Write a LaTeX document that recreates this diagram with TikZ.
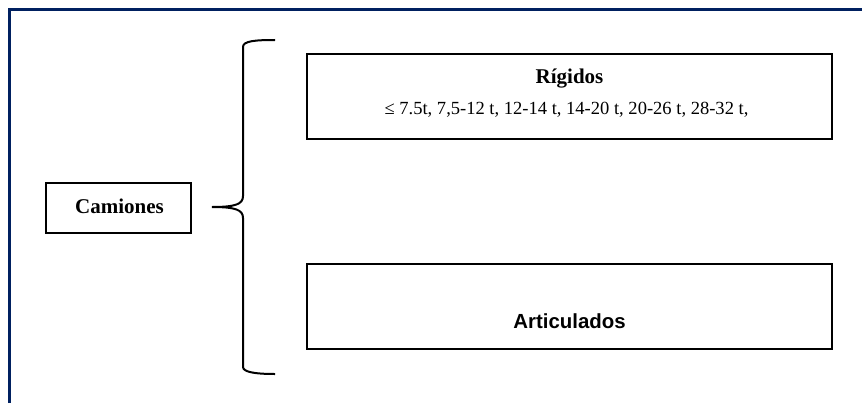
\documentclass[tikz,border=0pt]{standalone}
\usepackage{fontspec}
\setmainfont{Liberation Serif}
\newfontfamily\arialfont{Liberation Sans}
\definecolor{framenavy}{RGB}{0,32,96}
\tikzset{
  box/.style={draw, line width=1.5pt, minimum width=393.75pt, minimum height=63.75pt, inner sep=0pt},
  headtext/.style={font=\fontsize{15.75}{18}\selectfont\bfseries, anchor=base, inner sep=0pt},
  classtext/.style={font=\fontsize{13.9}{16}\selectfont, anchor=base, inner sep=0pt},
}

\begin{document}
\begin{tikzpicture}[x=0.75pt,y=0.75pt,yscale=-1,xscale=1]
	\useasboundingbox (0,0) rectangle (862,403);
	
	%Frame: left and top edge
	\draw [color=framenavy, line width=2.25pt] (9,403) -- (9,10) -- (862,10) ;
	
	%Shape: Rectangle [camiones]
	\node [box, minimum width=108.75pt, minimum height=37.5pt] (camiones) at (118.5,208) {};
	%Shape: Rectangle [rigidos]
	\node [box] (rigidos) at (569.5,96.5) {};
	%Shape: Rectangle [articulados]
	\node [box] (articulados) at (569.5,306.5) {};
	
	%Text
	\node [headtext] (camionestxt) at (119.5,213) {Camiones};
	\node [headtext] (rigidostxt) at (569.5,83) {Rígidos};
	\node [classtext] (pesostxt) at (566.5,114.5) {≤ 7.5t, 7,5-12 t, 12-14 t, 14-20 t, 20-26 t, 28-32 t,};
	\node [headtext, font=\fontsize{15.3}{18}\selectfont\arialfont\bfseries] (articuladostxt) at (569.5,328) {Articulados};
	
	%Shape: Brace
	\coordinate (bracetip) at (212,207) ;
	\draw [line width=1.5pt] (275,40) .. controls (255,40) and (243,41) .. (243,47) -- (243,196) .. controls (243,204) and (236,207) .. (bracetip) .. controls (236,207) and (243,210) .. (243,218) -- (243,367) .. controls (243,372) and (255,374) .. (275,374) ;
	
\end{tikzpicture}
\end{document}
